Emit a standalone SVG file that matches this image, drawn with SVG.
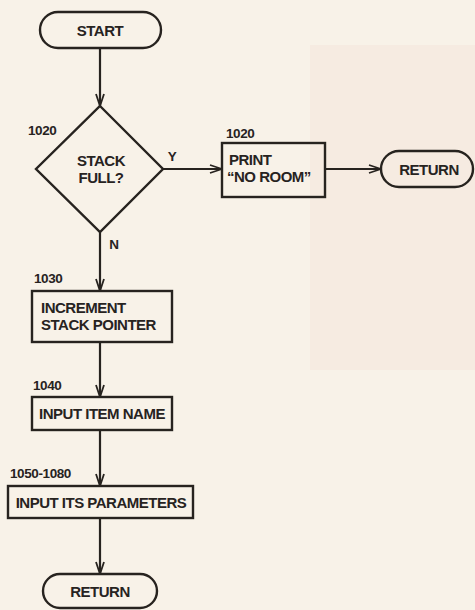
<svg xmlns="http://www.w3.org/2000/svg" width="475" height="610" viewBox="0 0 475 610">
<style>
.shape{fill:none;stroke:#27231f;stroke-width:2.4}
.line{fill:none;stroke:#27231f;stroke-width:2.2}
text{font-family:"Liberation Sans",Arial,sans-serif;font-weight:bold;font-size:15px;fill:#27231f;letter-spacing:-0.5px}
.c{text-anchor:middle}
.lbl{font-size:13.5px;letter-spacing:-0.4px}
</style>
<defs>
<marker id="arr" markerWidth="14" markerHeight="10" refX="13" refY="5" orient="auto" markerUnits="userSpaceOnUse">
<path d="M1,1 L13,5 L1,9" fill="none" stroke="#27231f" stroke-width="1.8"/>
</marker>
</defs>
<rect width="475" height="610" fill="#f8f2e8"/>
<rect x="310" y="45" width="165" height="325" fill="#f2e0d8" opacity="0.4"/>

<g id="connectors">
<line class="line" x1="100" y1="48" x2="100" y2="106" marker-end="url(#arr)"/>
<line class="line" x1="163" y1="169" x2="222" y2="169" marker-end="url(#arr)"/>
<line class="line" x1="325" y1="169" x2="381" y2="169" marker-end="url(#arr)"/>
<line class="line" x1="100" y1="232" x2="100" y2="291" marker-end="url(#arr)"/>
<line class="line" x1="100" y1="342" x2="100" y2="397" marker-end="url(#arr)"/>
<line class="line" x1="100" y1="430" x2="100" y2="486" marker-end="url(#arr)"/>
<line class="line" x1="100" y1="518" x2="100" y2="574" marker-end="url(#arr)"/>
<text x="172" y="161" class="c lbl">Y</text>
<text x="114" y="249" class="c lbl">N</text>
</g>

<g id="start">
<rect class="shape" x="40" y="12" width="121" height="36" rx="18"/>
<text x="100" y="36" class="c">START</text>
</g>

<g id="decision">
<polygon class="shape" points="100,106 163,169 100,232 36,169"/>
<text x="28" y="135" class="lbl">1020</text>
<text x="101" y="166" class="c">STACK</text>
<text x="101" y="183" class="c">FULL?</text>
</g>

<g id="print">
<rect class="shape" x="222" y="143" width="103" height="54"/>
<text x="226" y="138" class="lbl">1020</text>
<text x="229" y="165">PRINT</text>
<text x="227" y="182">“NO ROOM”</text>
</g>

<g id="return1">
<rect class="shape" x="381" y="151" width="92" height="36" rx="18"/>
<text x="429" y="175" class="c">RETURN</text>
</g>

<g id="increment">
<rect class="shape" x="32" y="291" width="140" height="51"/>
<text x="34" y="283" class="lbl">1030</text>
<text x="41" y="313">INCREMENT</text>
<text x="41" y="330">STACK POINTER</text>
</g>

<g id="inputname">
<rect class="shape" x="32" y="397" width="140" height="33"/>
<text x="33" y="390" class="lbl">1040</text>
<text x="102" y="419" class="c">INPUT ITEM NAME</text>
</g>

<g id="inputparams">
<rect class="shape" x="8" y="486" width="185" height="32"/>
<text x="10" y="478" class="lbl">1050-1080</text>
<text x="101" y="508" class="c">INPUT ITS PARAMETERS</text>
</g>

<g id="return2">
<rect class="shape" x="43" y="574" width="114" height="34" rx="17"/>
<text x="100" y="597" class="c">RETURN</text>
</g>
</svg>
